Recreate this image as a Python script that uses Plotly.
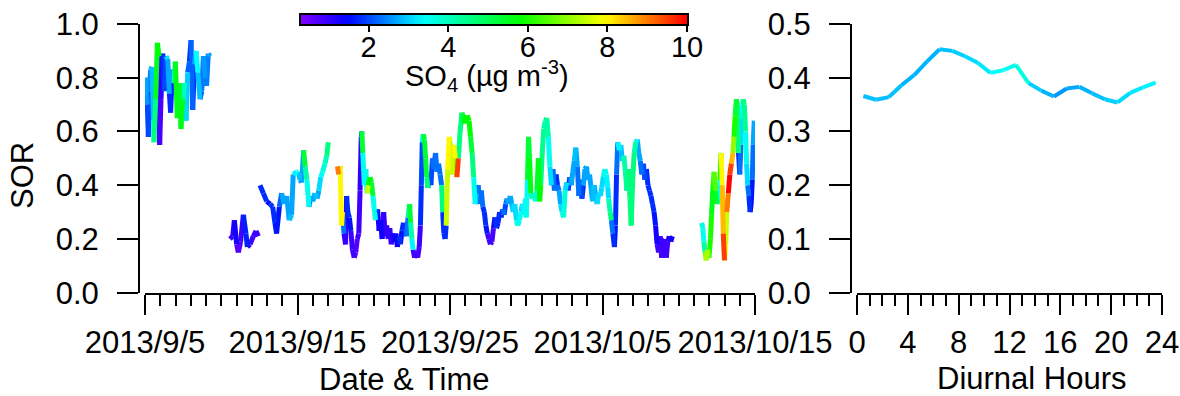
import colorsys
import numpy as np
import plotly.graph_objects as go

# ---------------- data ----------------
# time series: days since 2013-09-05 00:00; None marks a data gap
day = [0.00, 0.04, 0.09, 0.15, 0.22, 0.28, 0.37, 0.46, 0.55, 0.59, 0.70, 0.81, 0.92, 0.96, 1.05, 1.16, 1.27, 1.38, 1.49, 1.60,
       1.68, 1.79, 1.90, 1.99, 2.12, 2.25, 2.36, 2.47, 2.58, 2.69, 2.80, 2.91, 3.02, 3.13, 3.24, 3.35, 3.46, 3.61, 3.72, 3.83,
       3.96, 4.04, 4.15, 4.26, None,
       5.57, 5.75, 5.86, 6.01, 6.12, 6.27, 6.45, 6.62, 6.71, 6.89, 7.10, 7.28, 7.43, None,
       7.54, 7.76, 7.98, 8.20, 8.37, 8.52, 8.63, 8.81, 8.96, 9.11, 9.29, 9.46, 9.61, 9.72, 9.94, 10.05, 10.16, 10.27, 10.40, 10.50,
       10.62, 10.75, 10.88, 11.00, 11.15, 11.28, 11.40, 11.52, 11.65, 11.80, 11.92, 12.02, None,
       12.62, 12.70, 12.80, 12.88, 12.95, 13.05, 13.15, 13.22, 13.30, 13.40, 13.50, 13.60, 13.72, 13.82, 13.92, 14.02, 14.10, 14.18, 14.22, 14.28,
       14.38, 14.48, 14.56, 14.65, 14.75, 14.85, 14.95, 15.05, 15.12, 15.25, 15.35, 15.45, 15.55, 15.65, 15.75, 15.85, 15.95, 16.05, 16.15, 16.25,
       16.35, 16.45, 16.55, 16.65, 16.75, 16.85, 16.95, 17.05, 17.15, 17.25, 17.35, 17.42, 17.50, 17.58, 17.68, 17.78, 17.88, 17.98, 18.06, 18.12,
       18.18, 18.25, 18.32, 18.40, 18.47, 18.55, 18.65, 18.75, 18.85, 18.95, 19.05, 19.15, 19.25, 19.35, 19.45, 19.52, 19.60, 19.68, 19.75, 19.85,
       19.95, 20.05, 20.15, 20.25, 20.35, 20.45, 20.55, 20.65, 20.78, 20.88, 21.00, 21.12, 21.25, 21.35, 21.45, 21.55, 21.65, 21.75, 21.85, 21.95,
       22.05, 22.15, 22.25, 22.35, 22.45, 22.55, 22.65, 22.75, 22.85, 22.95, 23.05, 23.15, 23.25, 23.35, 23.45, 23.55, 23.65, 23.75, 23.85, 23.95,
       24.05, 24.15, 24.25, 24.35, 24.45, 24.55, 24.65, 24.75, 24.85, 24.95, 25.00, 25.08, 25.15, 25.22, 25.30, 25.40, 25.50, 25.60, 25.70, 25.80,
       25.88, 25.95, 26.05, 26.15, 26.25, 26.35, 26.45, 26.55, 26.65, 26.75, 26.85, 26.95, 27.05, 27.15, 27.25, 27.35, 27.45, 27.55, 27.65, 27.75,
       27.85, 27.95, 28.05, 28.15, 28.25, 28.35, 28.45, 28.55, 28.65, 28.75, 28.85, 28.95, 29.05, 29.15, 29.25, 29.35, 29.45, 29.55, 29.65, 29.75,
       29.85, 29.95, 30.05, 30.15, 30.25, 30.35, 30.40, 30.50, 30.58, 30.68, 30.78, 30.85, 30.92, 31.00, 31.10, 31.20, 31.30, 31.40, 31.50, 31.60,
       31.70, 31.80, 31.88, 31.98, 32.08, 32.18, 32.28, 32.38, 32.48, 32.58, 32.68, 32.78, 32.88, 32.98, 33.08, 33.18, 33.28, 33.38, 33.48, 33.58,
       33.68, 33.78, 33.88, 33.98, 34.08, 34.18, 34.28, 34.38, 34.48, 34.58, None,
       36.50, 36.58, 36.65, 36.72, 36.80, 36.90, 36.98, 37.08, 37.15, 37.25, 37.32, 37.40, 37.50, 37.60, 37.70, 37.78, 37.85, 37.92, 38.00, 38.08,
       38.15, 38.25, 38.35, 38.45, 38.55, 38.62, 38.70, 38.78, 38.85, 38.92, 39.00, 39.08, 39.15, 39.22, 39.30, 39.38, 39.45, 39.52, 39.60, 39.68,
       39.75, 39.82, 39.88, 39.95]

sor = [0.73, 0.80, 0.77, 0.70, 0.58, 0.75, 0.83, 0.84, 0.64, 0.56, 0.72, 0.93, 0.88, 0.55, 0.72, 0.89, 0.75, 0.88, 0.87, 0.74,
       0.67, 0.83, 0.78, 0.86, 0.65, 0.78, 0.61, 0.72, 0.78, 0.64, 0.82, 0.86, 0.94, 0.68, 0.85, 0.90, 0.82, 0.72, 0.75, 0.88,
       0.80, 0.77, 0.89, 0.88, None,
       0.20, 0.21, 0.27, 0.18, 0.15, 0.19, 0.29, 0.22, 0.17, 0.18, 0.21, 0.23, 0.21, None,
       0.40, 0.37, 0.34, 0.33, 0.32, 0.26, 0.22, 0.32, 0.37, 0.33, 0.36, 0.27, 0.29, 0.44, 0.45, 0.45, 0.42, 0.41, 0.53, 0.47,
       0.42, 0.32, 0.36, 0.34, 0.37, 0.35, 0.38, 0.43, 0.45, 0.48, 0.51, 0.56, None,
       0.47, 0.44, 0.47, 0.25, 0.30, 0.22, 0.18, 0.36, 0.30, 0.28, 0.23, 0.16, 0.13, 0.15, 0.20, 0.22, 0.38, 0.58, 0.60, 0.52,
       0.40, 0.46, 0.37, 0.40, 0.43, 0.41, 0.36, 0.30, 0.27, 0.31, 0.23, 0.27, 0.20, 0.30, 0.21, 0.25, 0.20, 0.24, 0.18, 0.22,
       0.19, 0.22, 0.17, 0.21, 0.18, 0.23, 0.26, 0.24, 0.21, 0.28, 0.33, 0.26, 0.20, 0.16, 0.13, 0.15, 0.13, 0.17, 0.25, 0.40,
       0.56, 0.59, 0.57, 0.50, 0.43, 0.39, 0.44, 0.40, 0.50, 0.46, 0.52, 0.45, 0.48, 0.44, 0.40, 0.30, 0.22, 0.20, 0.25, 0.46,
       0.58, 0.53, 0.44, 0.55, 0.50, 0.43, 0.50, 0.59, 0.67, 0.65, 0.63, 0.66, 0.64, 0.58, 0.52, 0.43, 0.33, 0.37, 0.40, 0.33,
       0.38, 0.32, 0.30, 0.25, 0.22, 0.20, 0.18, 0.19, 0.24, 0.28, 0.24, 0.26, 0.30, 0.28, 0.31, 0.29, 0.33, 0.35, 0.33, 0.36,
       0.33, 0.30, 0.33, 0.27, 0.25, 0.27, 0.30, 0.33, 0.29, 0.35, 0.28, 0.42, 0.58, 0.50, 0.37, 0.35, 0.37, 0.34, 0.38, 0.50,
       0.34, 0.40, 0.52, 0.61, 0.64, 0.65, 0.58, 0.47, 0.40, 0.46, 0.38, 0.44, 0.40, 0.38, 0.33, 0.30, 0.28, 0.38, 0.41, 0.38,
       0.43, 0.40, 0.45, 0.49, 0.54, 0.47, 0.36, 0.42, 0.35, 0.40, 0.46, 0.47, 0.42, 0.44, 0.39, 0.34, 0.40, 0.36, 0.33, 0.37,
       0.36, 0.39, 0.43, 0.46, 0.44, 0.39, 0.35, 0.30, 0.27, 0.22, 0.17, 0.25, 0.44, 0.56, 0.53, 0.55, 0.49, 0.51, 0.45, 0.38,
       0.46, 0.35, 0.25, 0.42, 0.52, 0.56, 0.57, 0.52, 0.49, 0.44, 0.48, 0.42, 0.46, 0.40, 0.38, 0.36, 0.33, 0.30, 0.25, 0.18,
       0.15, 0.21, 0.13, 0.19, 0.20, 0.13, 0.19, 0.21, 0.19, 0.21, None,
       0.26, 0.24, 0.19, 0.15, 0.12, 0.16, 0.13, 0.20, 0.29, 0.40, 0.45, 0.38, 0.33, 0.35, 0.42, 0.52, 0.40, 0.22, 0.12, 0.18,
       0.30, 0.37, 0.44, 0.48, 0.52, 0.58, 0.66, 0.72, 0.70, 0.52, 0.44, 0.55, 0.65, 0.72, 0.70, 0.60, 0.48, 0.40, 0.36, 0.30,
       0.33, 0.42, 0.55, 0.64]

so4 = [2.7, 2.7, 2.6, 2.0, 1.7, 2.4, 2.7, 2.9, 3.5, 4.6, 5.5, 5.8, 0.8, 0.7, 1.0, 1.8, 2.0, 3.2, 2.7, 1.8,
       1.7, 2.7, 4.2, 5.6, 5.3, 5.3, 5.6, 4.0, 3.1, 3.0, 2.2, 1.8, 2.2, 1.8, 2.7, 3.4, 2.9, 2.0, 2.4, 2.6,
       2.4, 2.4, 2.7, 2.7, None,
       0.9, 1.0, 1.3, 0.7, 0.7, 0.9, 1.7, 1.7, 1.0, 0.9, 0.9, 0.9, 0.8, None,
       1.8, 1.8, 1.6, 1.8, 1.8, 1.6, 1.6, 2.2, 2.7, 2.7, 2.7, 2.9, 2.7, 3.3, 3.5, 2.9, 2.7, 2.7, 5.3, 4.2,
       3.5, 2.3, 2.7, 2.7, 2.9, 2.7, 3.1, 3.5, 3.7, 4.0, 4.6, 5.3, None,
       9.0, 5.8, 8.0, 8.0, 2.3, 1.0, 1.0, 1.8, 1.8, 1.6, 0.9, 0.9, 0.7, 0.7, 0.9, 0.9, 1.0, 1.8, 5.3, 3.5,
       3.1, 3.5, 7.5, 5.8, 5.3, 5.3, 3.5, 3.5, 1.8, 1.3, 1.0, 1.3, 0.9, 1.0, 0.9, 1.0, 0.9, 1.0, 0.9, 1.3,
       1.3, 1.3, 1.0, 1.8, 1.6, 1.8, 1.8, 2.0, 2.3, 4.2, 5.3, 4.2, 3.3, 0.9, 0.7, 0.7, 0.8, 0.9, 1.8, 2.0,
       3.5, 5.3, 5.3, 5.3, 4.6, 2.0, 1.8, 2.0, 2.3, 2.0, 2.3, 2.0, 2.3, 2.3, 4.6, 1.8, 1.8, 1.8, 7.5, 8.0,
       7.0, 7.5, 6.5, 8.0, 7.0, 9.5, 4.6, 4.6, 5.3, 5.8, 5.8, 5.8, 5.8, 5.3, 4.6, 3.5, 2.7, 1.8, 2.3, 1.8,
       2.3, 1.8, 1.8, 1.6, 0.9, 0.9, 0.7, 0.8, 1.3, 1.8, 1.6, 1.8, 1.8, 1.8, 2.3, 2.0, 2.3, 2.7, 2.7, 2.7,
       2.9, 3.1, 3.1, 3.5, 3.5, 3.5, 3.1, 3.3, 3.1, 3.5, 3.5, 5.3, 5.3, 5.6, 4.0, 3.5, 3.5, 3.7, 5.3, 5.6,
       5.8, 4.6, 4.4, 4.2, 4.4, 4.2, 3.5, 3.1, 1.8, 2.3, 1.8, 1.8, 2.3, 2.7, 3.1, 3.5, 3.7, 3.1, 2.0, 1.8,
       2.3, 2.7, 2.7, 2.9, 2.7, 2.3, 1.8, 2.0, 1.8, 2.7, 2.7, 2.7, 2.6, 2.7, 2.7, 2.9, 2.7, 2.9, 3.1, 3.1,
       3.1, 3.1, 3.5, 3.5, 3.3, 3.1, 4.2, 4.6, 2.3, 1.8, 1.6, 1.8, 2.3, 3.3, 3.1, 2.9, 3.1, 4.2, 4.4, 2.3,
       4.6, 4.6, 4.6, 4.6, 4.2, 3.5, 2.7, 2.7, 2.3, 1.8, 2.0, 1.8, 1.8, 1.8, 1.8, 1.8, 1.8, 1.6, 1.3, 0.9,
       0.7, 0.9, 0.7, 0.9, 0.9, 0.8, 0.9, 1.3, 1.3, 1.6, None,
       3.7, 3.5, 4.2, 7.0, 7.2, 6.5, 6.0, 6.0, 5.6, 6.2, 6.5, 5.3, 4.2, 3.5, 6.0, 8.0, 8.5, 9.5, 8.0, 7.5,
       9.0, 10.0, 9.5, 8.5, 7.0, 6.0, 5.3, 5.3, 4.6, 1.8, 2.3, 3.1, 3.5, 4.6, 4.4, 3.5, 3.1, 2.3, 1.8, 1.3,
       1.6, 2.3, 2.7, 2.7]

# diurnal means
hour = [0.5, 1.5, 2.5, 3.5, 4.5, 5.5, 6.5, 7.5, 8.5, 9.5, 10.5, 11.5,
        12.5, 13.5, 14.5, 15.5, 16.5, 17.5, 18.5, 19.5, 20.5, 21.5, 22.5, 23.5]
sor_diurnal = [0.366, 0.359, 0.364, 0.386, 0.405, 0.430, 0.453, 0.450, 0.440, 0.428, 0.409, 0.414,
               0.424, 0.390, 0.376, 0.365, 0.380, 0.383, 0.371, 0.360, 0.354, 0.372, 0.382, 0.391]
so4_diurnal = [2.9, 2.9, 2.9, 2.8, 2.8, 2.8, 2.9, 3.0, 3.1, 3.2, 3.4, 3.5,
               3.7, 3.0, 2.8, 2.6, 2.7, 2.8, 2.9, 3.0, 3.1, 3.2, 3.3, 3.4]

date_tickvals = [0, 10, 20, 30, 40]
date_ticktext = ["2013/9/5", "2013/9/15", "2013/9/25", "2013/10/5", "2013/10/15"]
cbar_ticks = [2, 4, 6, 8, 10]

# ---------------- colour map (reversed rainbow) ----------------
CMIN, CMAX = 0.3, 10.0
HUE_T = [0.0, 0.12, 0.316, 0.567, 0.788, 1.0]
HUE_H = [270, 240, 180, 120, 60, 0]


def color_at(v):
    t = min(max((v - CMIN) / (CMAX - CMIN), 0.0), 1.0)
    h = float(np.interp(t, HUE_T, HUE_H))
    r, g, b = colorsys.hsv_to_rgb(h / 360.0, 1.0, 1.0)
    return f"rgb({int(r*255+0.5)},{int(g*255+0.5)},{int(b*255+0.5)})"


colorscale = [[float(t), color_at(CMIN + t * (CMAX - CMIN))] for t in np.linspace(0, 1, 41)]

W, H = 1180, 396
FONT = "Liberation Sans, Arial, sans-serif"
FS = 31
FS_CB = 29
LW = 5

fig = go.Figure()


def add_colored_line(xs, ys, cs, xaxis, yaxis, width):
    bins = {}
    for i in range(len(xs) - 1):
        if xs[i] is None or xs[i + 1] is None:
            continue
        key = round(cs[i], 1)
        bx, by = bins.setdefault(key, ([], []))
        bx += [xs[i], xs[i + 1], None]
        by += [ys[i], ys[i + 1], None]
    for key, (bx, by) in sorted(bins.items()):
        fig.add_trace(go.Scatter(x=bx, y=by, mode="lines", xaxis=xaxis, yaxis=yaxis,
                                 line=dict(color=color_at(key), width=width),
                                 hoverinfo="skip", showlegend=False))


add_colored_line(day, sor, so4, "x", "y", LW)
add_colored_line(hour, sor_diurnal, so4_diurnal, "x2", "y2", 4)

# colour bar drawn as a one-row heatmap on its own small axes
bar_vals = np.linspace(CMIN, CMAX, 300)
fig.add_trace(go.Heatmap(x=bar_vals, y=[0.5], z=[bar_vals], xaxis="x3", yaxis="y3",
                         colorscale=colorscale, zmin=CMIN, zmax=CMAX, showscale=False,
                         hoverinfo="skip"))
# carrier for the colour-bar tick labels axis
fig.add_trace(go.Scatter(x=[CMIN, CMAX], y=[0.5, 0.5], xaxis="x4", yaxis="y3", mode="markers",
                         marker=dict(size=1, opacity=0), hoverinfo="skip", showlegend=False))

ydom = [1 - 292.7 / H, 1 - 24 / H]
common_axis = dict(showline=True, linewidth=2, linecolor="black", showgrid=False, zeroline=False,
                   ticks="outside", tickwidth=2, tickcolor="black", automargin=False,
                   tickfont=dict(size=FS, family=FONT, color="black"))

CB_TOP, CB_BOT = 15, 24
fig.update_layout(
    width=W, height=H, margin=dict(l=0, r=0, t=0, b=0, autoexpand=False),
    paper_bgcolor="white", plot_bgcolor="white", showlegend=False,
    font=dict(family=FONT, size=FS, color="black"),
    xaxis=dict(domain=[145 / W, 755 / W], range=[0, 40], anchor="y",
               tickmode="array", tickvals=date_tickvals, ticktext=date_ticktext,
               ticklen=20, ticklabelstandoff=1,
               minor=dict(ticks="outside", ticklen=11, tickwidth=2, tickcolor="black",
                          tickmode="linear", tick0=0, dtick=1, showgrid=False),
               **common_axis),
    yaxis=dict(domain=ydom, range=[0, 1], anchor="free", position=139 / W,
               tickmode="linear", tick0=0, dtick=0.2, tickformat=".1f",
               ticklen=21, ticklabelstandoff=12, **common_axis),
    xaxis2=dict(domain=[857 / W, 1162 / W], range=[0, 24], anchor="y2",
                tickmode="linear", tick0=0, dtick=4,
                ticklen=20, ticklabelstandoff=1,
                minor=dict(ticks="outside", ticklen=11, tickwidth=2, tickcolor="black",
                           tickmode="linear", tick0=0, dtick=1, showgrid=False),
                **common_axis),
    yaxis2=dict(domain=ydom, range=[0, 0.5], anchor="free", position=851 / W,
                tickmode="linear", tick0=0, dtick=0.1, tickformat=".1f",
                ticklen=21, ticklabelstandoff=12, **common_axis),
    # colour bar axes
    xaxis3=dict(domain=[301 / W, 687 / W], range=[CMIN, CMAX], anchor="y3",
                showline=True, mirror=True, linewidth=2, linecolor="black",
                showgrid=False, zeroline=False, ticks="outside", ticklen=6, tickwidth=2,
                tickcolor="black", tickmode="array", tickvals=cbar_ticks,
                showticklabels=False, automargin=False, fixedrange=True),
    yaxis3=dict(domain=[1 - CB_BOT / H, 1 - CB_TOP / H], range=[0, 1], anchor="x3",
                showline=True, mirror=True, linewidth=2, linecolor="black",
                showgrid=False, zeroline=False, ticks="", showticklabels=False,
                automargin=False, fixedrange=True),
    xaxis4=dict(overlaying="x3", matches="x3", anchor="free", position=1 - 22 / H,
                showline=False, showgrid=False, zeroline=False, ticks="",
                tickmode="array", tickvals=cbar_ticks, ticklabelstandoff=5,
                tickfont=dict(size=FS_CB, family=FONT, color="black"), automargin=False,
                fixedrange=True),
)

title_font = dict(size=FS, family=FONT, color="black")
fig.add_annotation(text="SOR", x=22 / W, y=1 - 176 / H, xref="paper", yref="paper",
                   textangle=-90, showarrow=False, xanchor="center", yanchor="middle", font=title_font)
fig.add_annotation(text="Date &amp; Time", x=405 / W, y=1 - 379 / H, xref="paper", yref="paper",
                   showarrow=False, xanchor="center", yanchor="middle", font=title_font, borderpad=0)
fig.add_annotation(text="Diurnal Hours", x=1032 / W, y=1 - 378 / H, xref="paper", yref="paper",
                   showarrow=False, xanchor="center", yanchor="middle", font=title_font, borderpad=0)
fig.add_annotation(text="SO<sub>4</sub> (µg m<sup>-3</sup>)", x=487 / W, y=1 - 76 / H,
                   xref="paper", yref="paper", showarrow=False, xanchor="center", yanchor="middle",
                   font=dict(size=FS_CB, family=FONT, color="black"), borderpad=0)

fig.write_html("out.html")
